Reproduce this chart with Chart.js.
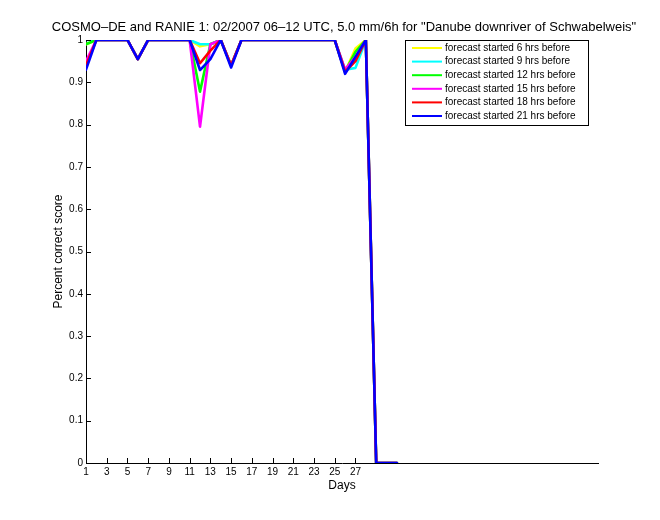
<!DOCTYPE html>
<html>
<head>
<meta charset="utf-8">
<script src="https://cdn.jsdelivr.net/npm/chart.js@4/dist/chart.umd.min.js"></script>
<style>
  html, body { margin: 0; padding: 0; background: #fff; }
  #wrap { width: 660px; height: 520px; }
</style>
</head>
<body>
<div id="wrap"><canvas id="scoreChart" width="660" height="520"></canvas></div>
<script>
// data
const days = [1,2,3,4,5,6,7,8,9,10,11,12,13,14,15,16,17,18,19,20,21,22,23,24,25,26,27,28,29,30,31]
const xTickLabels = [1,3,5,7,9,11,13,15,17,19,21,23,25,27]
const yTickLabels = [0,0.1,0.2,0.3,0.4,0.5,0.6,0.7,0.8,0.9,1]

const seriesNames = [
  'forecast started 6 hrs before',
  'forecast started 9 hrs before',
  'forecast started 12 hrs before',
  'forecast started 15 hrs before',
  'forecast started 18 hrs before',
  'forecast started 21 hrs before'
]
const seriesColors = ['#ffff00', '#00ffff', '#00ff00', '#ff00ff', '#ff0000', '#0000ff']

const fc6h  = [0.99,1,1,1,1,0.955,1,1,1,1,1,0.985,0.99,1,0.94,1,1,1,1,1,1,1,1,1,1,0.925,0.98,1,0,0,0]
const fc9h  = [1,1,1,1,1,0.955,1,1,1,1,1,0.99,0.99,1,0.94,1,1,1,1,1,1,1,1,1,1,0.93,0.934,1,0,0,0]
const fc12h = [0.99,1,1,1,1,0.955,1,1,1,1,1,0.878,0.99,1,0.94,1,1,1,1,1,1,1,1,1,1,0.925,0.972,1,0,0,0]
const fc15h = [0.95,1,1,1,1,0.955,1,1,1,1,1,0.795,0.99,1,0.94,1,1,1,1,1,1,1,1,1,1,0.93,0.96,1,0,0,0]
const fc18h = [0.94,1,1,1,1,0.955,1,1,1,1,1,0.945,0.975,1,0.94,1,1,1,1,1,1,1,1,1,1,0.925,0.95,1,0,0,0]
const fc21h = [0.93,1,1,1,1,0.955,1,1,1,1,1,0.929,0.955,1,0.935,1,1,1,1,1,1,1,1,1,1,0.92,0.96,1,0,0,0]

const allSeries = [fc6h, fc9h, fc12h, fc15h, fc18h, fc21h]
const FONT = '"Liberation Sans", Arial, Helvetica, sans-serif'

// matlab-ish inner ticks, title, axis labels and boxed legend
const matlabDecor = {
  id: 'matlabDecor',
  afterDraw(chart) {
    const ctx = chart.ctx
    const xs = chart.scales.x, ys = chart.scales.y
    const area = chart.chartArea
    ctx.save()
    ctx.strokeStyle = '#000'
    ctx.lineWidth = 1
    ctx.beginPath()
    xTickLabels.forEach(v => {
      const px = Math.round(xs.getPixelForValue(v)) + 0.5
      ctx.moveTo(px, area.bottom)
      ctx.lineTo(px, area.bottom - 5)
    })
    yTickLabels.forEach(v => {
      const py = Math.round(ys.getPixelForValue(v)) + 0.5
      ctx.moveTo(area.left, py)
      ctx.lineTo(area.left + 5, py)
    })
    ctx.stroke()

    ctx.fillStyle = '#000'
    ctx.textAlign = 'center'
    ctx.textBaseline = 'middle'
    ctx.font = '13px ' + FONT
    ctx.fillText('COSMO\u2013DE and RANIE 1: 02/2007 06\u201312 UTC, 5.0 mm/6h for "Danube downriver of Schwabelweis"', (area.left + area.right) / 2 + 2, 27)
    ctx.font = '12px ' + FONT
    ctx.fillText('Days', (area.left + area.right) / 2, 486)
    ctx.save()
    ctx.translate(59, (area.top + area.bottom) / 2)
    ctx.rotate(-Math.PI / 2)
    ctx.fillText('Percent correct score', 0, 0)
    ctx.restore()

    // legend box
    const bx = 405.5, by = 40.5, bw = 183, bh = 85
    ctx.fillStyle = '#fff'
    ctx.fillRect(bx, by, bw, bh)
    ctx.strokeRect(bx, by, bw, bh)
    ctx.font = '10px ' + FONT
    ctx.textAlign = 'left'
    chart.data.datasets.forEach((ds, i) => {
      const yy = 48 + i * 13.6
      ctx.strokeStyle = ds.borderColor
      ctx.lineWidth = 2
      ctx.beginPath()
      ctx.moveTo(412, yy)
      ctx.lineTo(442, yy)
      ctx.stroke()
      ctx.fillStyle = '#000'
      ctx.fillText(ds.label, 445, yy)
    })
    ctx.restore()
  }
}

const datasets = allSeries.map((vals, i) => ({
  label: seriesNames[i],
  data: vals,
  borderColor: seriesColors[i],
  backgroundColor: seriesColors[i],
  borderWidth: 2.6,
  borderJoinStyle: 'round',
  borderCapStyle: 'round',
  pointRadius: 0,
  tension: 0,
  order: allSeries.length - i
}))

new Chart(document.getElementById('scoreChart'), {
  type: 'line',
  data: { labels: days, datasets: datasets },
  options: {
    responsive: false,
    animation: false,
    layout: { padding: { top: 40, right: 62, left: 0, bottom: 0 } },
    plugins: {
      legend: { display: false },
      title: { display: false },
      tooltip: { enabled: false }
    },
    scales: {
      x: {
        type: 'linear',
        min: 1,
        max: 50.4,
        afterFit: s => { s.height = 57 },
        afterBuildTicks: s => { s.ticks = xTickLabels.map(v => ({ value: v })) },
        grid: { display: false, drawTicks: false },
        border: { display: true, color: '#000', width: 1 },
        ticks: { color: '#000', font: { family: FONT, size: 10 }, padding: 3, maxRotation: 0, autoSkip: false }
      },
      y: {
        min: 0,
        max: 1,
        afterFit: s => { s.width = 86 },
        afterBuildTicks: s => { s.ticks = yTickLabels.map(v => ({ value: v })) },
        grid: { display: false, drawTicks: false },
        border: { display: true, color: '#000', width: 1 },
        ticks: { color: '#000', font: { family: FONT, size: 10 }, padding: 3, callback: v => String(v) }
      }
    }
  },
  plugins: [matlabDecor]
})
</script>
</body>
</html>
